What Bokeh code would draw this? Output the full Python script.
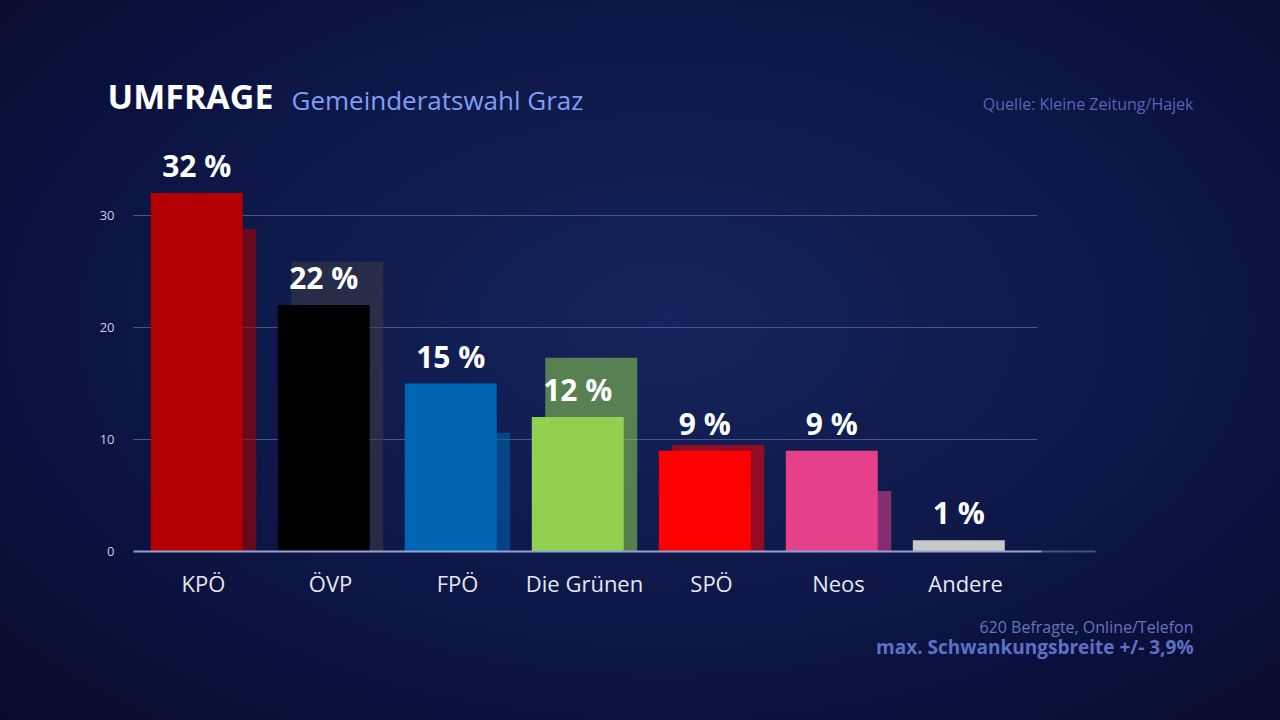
from bokeh.plotting import figure
from bokeh.models import Label, FixedTicker, ColumnDataSource, GlobalInlineStyleSheet
from bokeh.core.properties import value
from bokeh.embed import file_html
from bokeh.resources import INLINE

# ---- data ----
parties = ["KPÖ", "ÖVP", "FPÖ", "Die Grünen", "SPÖ", "Neos", "Andere"]
poll = [32, 22, 15, 12, 9, 9, 1]
previous = [28.8, 25.9, 10.6, 17.3, 9.5, 5.4, 0]
value_labels = ["32 %", "22 %", "15 %", "12 %", "9 %", "9 %", "1 %"]
bar_colors = ["#b30000", "#000000", "#0066b3", "#92d050", "#ff0000", "#e4418a", "#c8c8c8"]
shadow_colors = ["#b30000", "#3a3c46", "#0066b3", "#92d050", "#ff0000", "#e4418a", "#c8c8c8"]
y_ticks = [0, 10, 20, 30]

FONT = "Open Sans"

xs = list(range(len(parties)))
off = 0.053
bar_w = 0.724
label_gap = 2.45  # label lift above bar top, in value units

src = ColumnDataSource(dict(
    x_main=[x - off for x in xs],
    x_prev=[x + off for x in xs],
    poll=poll,
    lab_y=[v + label_gap for v in poll],
    prev=previous,
    lab=value_labels,
    col=bar_colors,
    scol=shadow_colors,
))

# frame spans x 100..1280 px and y 0..700 px of the page
p = figure(width=1280, height=720, output_backend="svg", toolbar_location=None,
           x_range=(-0.811, 8.480), y_range=(-13.304, 49.196),
           min_border_left=100, min_border_right=0,
           min_border_top=0, min_border_bottom=20)
p.title.visible = False

p.styles = {"background": "radial-gradient(ellipse 75% 80% at 52% 45%, #15245c 0%, #0f1a4c 40%, #0b113e 70%, #080b2a 100%)"}
p.stylesheets = [GlobalInlineStyleSheet(css="html, body { background: #090d2e; margin: 0; }")]
p.background_fill_alpha = 0
p.border_fill_alpha = 0
p.outline_line_color = None
p.xgrid.visible = False
p.ygrid.visible = False

# gridlines (shorter than the baseline)
p.segment(x0=[-0.551] * 3, x1=[6.567] * 3, y0=y_ticks[1:], y1=y_ticks[1:],
          line_color="#4a5688", line_width=1)

# previous result bars (behind)
p.vbar(x="x_prev", top="prev", bottom=0, width=bar_w, source=src,
       fill_color="scol", fill_alpha=0.55, line_color=None)
# poll bars
p.vbar(x="x_main", top="poll", bottom=0, width=bar_w, source=src,
       fill_color="col", line_color=None)

# baseline
p.segment(x0=[-0.551], x1=[6.60], y0=[0], y1=[0], line_color="#8fa2d2", line_width=2)
p.segment(x0=[6.60], x1=[7.024], y0=[0], y1=[0], line_color="#8fa2d2", line_width=2, line_alpha=0.45)

# value labels
p.text(x="x_main", y="lab_y", text="lab", source=src,
       text_align="center", text_baseline="alphabetic",
       text_font=value(FONT), text_font_style="bold", text_font_size="30px",
       text_color="#ffffff")

# axes (labels pulled into the frame area with negative standoffs)
xa = p.xaxis[0]
xa.ticker = FixedTicker(ticks=xs)
xa.major_label_overrides = {i: n for i, n in enumerate(parties)}
xa.axis_line_color = None
xa.major_tick_line_color = None
xa.minor_tick_line_color = None
xa.major_label_standoff = -139
xa.major_label_text_font = FONT
xa.major_label_text_font_size = "22px"
xa.major_label_text_color = "#e4e7f2"

ya = p.yaxis[0]
ya.ticker = FixedTicker(ticks=y_ticks)
ya.axis_line_color = None
ya.major_tick_line_color = None
ya.minor_tick_line_color = None
ya.major_label_standoff = -20
ya.major_label_text_font = FONT
ya.major_label_text_font_size = "13px"
ya.major_label_text_color = "#c9cee0"

# titles and notes, screen units relative to the frame (origin bottom-left)
def lab(x, y, text, size, color, align="left", bold=False):
    p.add_layout(Label(x=x, y=y, x_units="screen", y_units="screen",
                       text=text, text_align=align, text_baseline="middle",
                       text_font=FONT, text_font_size=size, text_color=color,
                       text_font_style="bold" if bold else "normal"))

lab(7, 605, "UMFRAGE", "34px", "#ffffff", bold=True)
lab(191, 601, "Gemeinderatswahl Graz", "26px", "#7f9ef2")
lab(1093, 597, "Quelle: Kleine Zeitung/Hajek", "16px", "#5566b5", align="right")
lab(1093, 73.5, "620 Befragte, Online/Telefon", "16px", "#6575bd", align="right")
lab(1093, 54, "max. Schwankungsbreite +/- 3,9%", "19px", "#5d70c4", align="right", bold=True)

open("out.html", "w").write(file_html(p, INLINE))
